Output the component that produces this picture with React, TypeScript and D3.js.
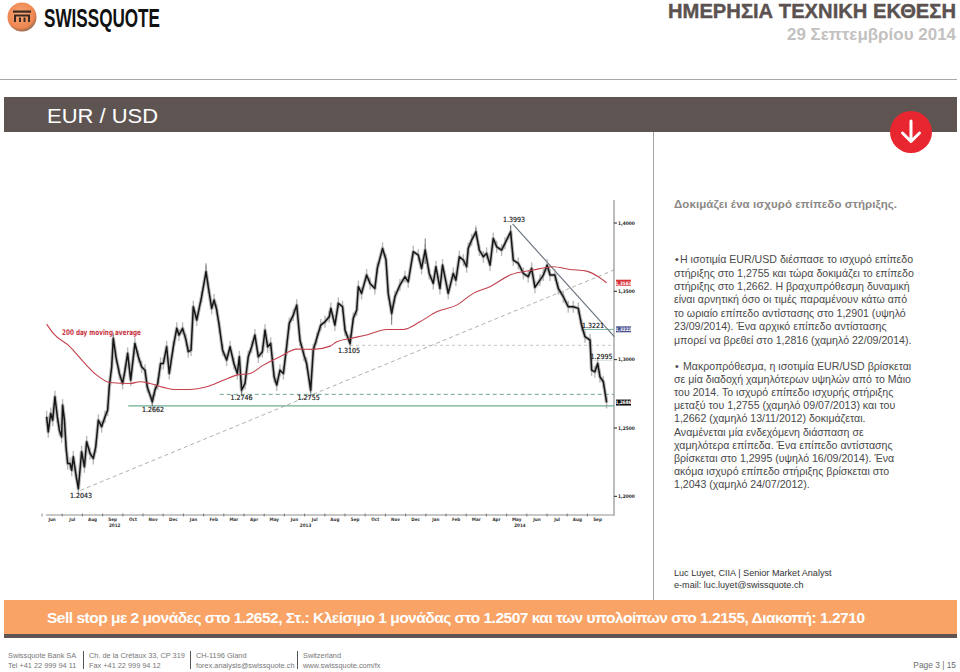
import React from "react";
import * as d3 from "d3";

// Time axis is expressed in months since 1 Jun 2012
const priceMonths = [0.23,0.31,0.43,0.53,0.64,0.76,0.86,0.97,1.02,1.11,1.19,1.27,1.39,1.47,1.55,1.67,1.8,1.96,2.1,2.21,2.38,2.54,2.66,2.79,2.95,3.12,3.25,3.33,3.45,3.53,3.66,3.83,3.99,4.11,4.24,4.39,4.6,4.77,4.93,5.1,5.21,5.46,5.59,5.73,5.87,6.01,6.17,6.3,6.5,6.67,6.78,6.96,7.13,7.24,7.38,7.49,7.66,7.9,8.12,8.23,8.4,8.52,8.65,8.78,8.94,9.14,9.31,9.5,9.67,9.77,9.88,10.05,10.21,10.38,10.54,10.71,10.91,11.04,11.17,11.32,11.49,11.62,11.78,11.95,12.11,12.24,12.44,12.61,12.77,12.97,13.1,13.3,13.43,13.6,13.8,14.01,14.22,14.3,14.5,14.67,14.88,15,15.25,15.41,15.58,15.66,15.82,16.07,16.24,16.48,16.6,16.86,17.03,17.14,17.31,17.47,17.72,17.97,18.13,18.38,18.63,18.79,18.97,19.17,19.37,19.5,19.7,19.83,20.11,20.36,20.49,20.66,20.86,21.02,21.1,21.27,21.48,21.65,21.85,22.01,22.18,22.34,22.51,22.75,22.92,23.2,23.33,23.58,23.83,24.07,24.24,24.4,24.65,24.82,25.01,25.15,25.39,25.56,25.81,26.05,26.3,26.55,26.71,26.88,27.13,27.21,27.37,27.51,27.62,27.79,27.95];
const closes = [1.2582,1.2472,1.2606,1.2557,1.2728,1.2582,1.2484,1.2435,1.2667,1.2557,1.2362,1.224,1.224,1.2191,1.2289,1.2167,1.2057,1.2326,1.2216,1.2399,1.2313,1.2277,1.2362,1.2557,1.2509,1.2582,1.2631,1.2801,1.2948,1.3155,1.3021,1.2899,1.2826,1.2923,1.3046,1.285,1.3119,1.3021,1.2948,1.2923,1.2801,1.2692,1.2777,1.2826,1.2972,1.2972,1.3094,1.2899,1.3094,1.3229,1.318,1.3229,1.3143,1.3058,1.307,1.3387,1.329,1.346,1.3643,1.3534,1.3375,1.3436,1.3363,1.3241,1.307,1.2997,1.3094,1.2972,1.2899,1.3021,1.2777,1.2826,1.3021,1.3094,1.318,1.3021,1.3058,1.3216,1.3094,1.3119,1.2875,1.2814,1.2923,1.2899,1.3094,1.3265,1.3326,1.3399,1.3143,1.3033,1.2972,1.2777,1.307,1.3155,1.3253,1.3277,1.3314,1.3375,1.3253,1.3412,1.3387,1.3216,1.3119,1.3302,1.3363,1.3534,1.3485,1.3619,1.3558,1.3521,1.3668,1.3814,1.3729,1.3485,1.3338,1.346,1.3546,1.3607,1.357,1.379,1.3765,1.3668,1.3802,1.3631,1.3558,1.368,1.3521,1.3692,1.3485,1.3631,1.3582,1.3753,1.3729,1.368,1.3814,1.3875,1.3936,1.3802,1.3753,1.3778,1.3692,1.3887,1.3826,1.3802,1.3851,1.3936,1.3729,1.3704,1.3631,1.3607,1.3668,1.3529,1.3582,1.3619,1.3692,1.3619,1.3619,1.3521,1.346,1.3387,1.3387,1.3375,1.3253,1.3168,1.3143,1.2923,1.2911,1.2972,1.2875,1.2838,1.2687];

const wickMonths = [1.8,3.53,5.46,8.12,9.88,13.3,15.25,17.31,18.97,21.48,23.2];
const wickLows = [1.2043,1.31,1.2662,1.36,1.2746,1.2755,1.3105,1.3255,1.37,1.39,1.39];
const wickHighs = [1.212,1.3185,1.274,1.3705,1.285,1.285,1.318,1.34,1.3887,1.3965,1.3985];

const maMonths = [0.23,0.56,1.39,2.05,2.71,3.37,4.36,4.85,5.35,6.01,6.5,7.33,8.15,8.98,9.64,10.3,10.96,11.78,12.61,13.43,14.26,14.59,15.25,16.07,17.06,17.89,18.71,19.54,20.53,21.35,22.18,23.17,24.32,25.31,26.14,26.96,27.54,27.95];
const maValues = [1.326,1.3192,1.3094,1.2984,1.2887,1.2833,1.2826,1.2838,1.2826,1.2797,1.2782,1.2782,1.2801,1.285,1.2887,1.2899,1.296,1.3021,1.3077,1.3075,1.3099,1.3131,1.3155,1.318,1.3221,1.3221,1.3277,1.3351,1.3399,1.3485,1.3534,1.3619,1.3656,1.368,1.366,1.3648,1.3607,1.3563];

const monthLabels = ["Jun","Jul","Aug","Sep","Oct","Nov","Dec","Jan","Feb","Mar","Apr","May","Jun","Jul","Aug","Sep","Oct","Nov","Dec","Jan","Feb","Mar","Apr","May","Jun","Jul","Aug","Sep"];
const yearLabels = [{ label: "2012", m: 3.6 }, { label: "2013", m: 13.05 }, { label: "2014", m: 23.66 }];
const yTicks = [1.4, 1.35, 1.3, 1.25, 1.2];

const levelLines = [
  { value: 1.2662, from: 4.27, color: "#6fae8f", width: 1.2, dash: "" },
  { value: 1.2746, from: 8.8, color: "#5f9a84", width: 0.9, dash: "4 3" },
  { value: 1.3105, from: 15.25, color: "#b8c4be", width: 0.9, dash: "3 3" },
  { value: 1.3221, from: 26.75, color: "#7fb8a0", width: 1, dash: "" },
  { value: 1.2995, from: 27.15, color: "#d5e0da", width: 1, dash: "" },
];
const priceNotes = [
  { text: "1.3993", m: 23.37, p: 1.4004 },
  { text: "1.3221", m: 27.28, p: 1.3231 },
  { text: "1.3105", m: 15.2, p: 1.3048 },
  { text: "1.2995", m: 27.7, p: 1.3008 },
  { text: "1.2746", m: 9.88, p: 1.2704 },
  { text: "1.2755", m: 13.2, p: 1.2704 },
  { text: "1.2662", m: 5.5, p: 1.2618 },
  { text: "1.2043", m: 1.93, p: 1.199 },
];
const flags = [
  { text: "1.3563", p: 1.3563, fill: "#d8313a" },
  { text: "1.3222", p: 1.3222, fill: "#4c5590" },
  { text: "1.2686", p: 1.2686, fill: "#111111" },
];

const headerTitle = "ΗΜΕΡΗΣΙΑ ΤΕΧΝΙΚΗ ΕΚΘΕΣΗ";
const headerDate = "29 Σεπτεμβρίου 2014";
const subHeading = "Δοκιμάζει ένα ισχυρό επίπεδο στήριξης.";
const bodyOne = [
  "στήριξης στο 1,2755 και τώρα δοκιμάζει το επίπεδο",
  "στήριξης στο 1,2662. Η βραχυπρόθεσμη δυναμική",
  "είναι αρνητική όσο οι τιμές παραμένουν κάτω από",
  "το ωριαίο επίπεδο αντίστασης στο 1,2901 (υψηλό",
  "23/09/2014). Ένα αρχικό επίπεδο αντίστασης",
  "μπορεί να βρεθεί στο 1,2816 (χαμηλό 22/09/2014).",
];
const bodyTwo = [
  "σε μία διαδοχή χαμηλότερων υψηλών από το Μάιο",
  "του 2014. Το ισχυρό επίπεδο ισχυρής στήριξης",
  "μεταξύ του 1,2755 (χαμηλό 09/07/2013) και του",
  "1,2662 (χαμηλό 13/11/2012) δοκιμάζεται.",
  "Αναμένεται μία ενδεχόμενη διάσπαση σε",
  "χαμηλότερα επίπεδα. Ένα επίπεδο αντίστασης",
  "βρίσκεται στο 1,2995 (υψηλό 16/09/2014). Ένα",
  "ακόμα ισχυρό επίπεδο στήριξης βρίσκεται στο",
  "1,2043 (χαμηλό 24/07/2012).",
];
const bandText = "Sell stop με 2 μονάδες στο 1.2652, Στ.: Κλείσιμο 1 μονάδας στο 1.2507 και των υπολοίπων στο 1.2155, Διακοπή: 1.2710";
const footerCols = [
  { x: 8, a: "Swissquote Bank SA", b: "Tel +41 22 999 94 11" },
  { x: 89, a: "Ch. de la Crétaux 33, CP 319", b: "Fax +41 22 999 94 12" },
  { x: 196, a: "CH-1196 Gland", b: "forex.analysis@swissquote.ch" },
  { x: 303, a: "Switzerland", b: "www.swissquote.com/fx" },
];

const SANS = "'Liberation Sans', Arial, sans-serif";
const COND = "'DejaVu Sans Condensed', 'DejaVu Sans', sans-serif";

export default function App() {
  const x = d3.scaleLinear().domain([0, 28]).range([42, 607.6]);
  const y = d3.scaleLinear().domain([1.4, 1.2]).range([223, 496.3]);
  const priceLine = d3.line<number>().x((_, i) => x(priceMonths[i])).y((d) => y(d));
  const maLine = d3.line<number>().x((_, i) => x(maMonths[i])).y((d) => y(d)).curve(d3.curveMonotoneX);
  const plotRight = 614;
  const plotLeft = 46;
  const axisY = 515;

  const support: [number, number][] = [[1.9, 1.2043], [28.33, 1.3657]];
  const resist: [number, number][] = [[23.3, 1.3993], [28.33, 1.3169]];
  const lineOf = (pts: [number, number][]) => d3.line<[number, number]>().x((d) => x(d[0])).y((d) => y(d[1]))(pts) as string;

  return (
    <svg width={960} height={672} style={{ position: "absolute", left: 0, top: 0, display: "block", background: "#fff" }} fontFamily={SANS}>
      <defs>
        <radialGradient id="logoGrad" cx="45%" cy="40%" r="60%">
          <stop offset="0%" stopColor="#f7a878" />
          <stop offset="80%" stopColor="#ee8650" />
          <stop offset="100%" stopColor="#9a6a50" />
        </radialGradient>
      </defs>
      <circle cx={22} cy={17} r={14.5} fill="url(#logoGrad)" />
      <rect x={13} y={10.5} width={18} height={2.2} fill="#3a2a22" />
      <path d="M15 22 V15.5 H29 V22 M20 22 V17.5 M24.5 22 V17.5" fill="none" stroke="#3a2a22" strokeWidth={2} />
      <text x={44} y={27} fontFamily="'Liberation Sans Narrow', 'Liberation Sans', sans-serif" fontWeight={700} fontSize={26} fill="#111" textLength={116} lengthAdjust="spacingAndGlyphs">SWISSQUOTE</text>
      <text x={956} y={17.5} textAnchor="end" fontWeight={700} fontSize={21} fill="#5b5250" stroke="#5b5250" strokeWidth={0.4} textLength={288} lengthAdjust="spacingAndGlyphs">{headerTitle}</text>
      <text x={956} y={40} textAnchor="end" fontWeight={700} fontSize={17} fill="#c3c1c0" textLength={169} lengthAdjust="spacingAndGlyphs">{headerDate}</text>
      <line x1={0} x2={957} y1={79.5} y2={79.5} stroke="#a9a6a5" strokeWidth={1} />
      <rect x={4} y={97} width={953} height={35} fill="#5e5553" />
      <text x={47} y={122.5} fontSize={21} fill="#fff" textLength={111} lengthAdjust="spacingAndGlyphs">EUR / USD</text>
      <line x1={653.5} x2={653.5} y1={132} y2={600} stroke="#a5a2a1" strokeWidth={1} />
      <circle cx={911} cy={132} r={21} fill="#e8262f" />
      <path d="M911 121 V141 M902.5 133 L911 141.5 L919.5 133" fill="none" stroke="#fff" strokeWidth={3} strokeLinecap="round" strokeLinejoin="round" />

      <text x={674} y={208} fontWeight={700} fontSize={11.5} fill="#8b8886" textLength={223}>{subHeading}</text>
      <g fontSize={10.6} fill="#4a4a4a">
        <text x={675} y={263}>•</text>
        <text x={680} y={263}>Η ισοτιμία EUR/USD διέσπασε το ισχυρό επίπεδο</text>
        {bodyOne.map((t, i) => <text key={t} x={674} y={276.5 + i * 13.45}>{t}</text>)}
        <text x={675} y={370}>•</text>
        <text x={683} y={370}>Μακροπρόθεσμα, η ισοτιμία EUR/USD βρίσκεται</text>
        {bodyTwo.map((t, i) => <text key={t} x={674} y={383.1 + i * 13.1}>{t}</text>)}
      </g>
      <g fontSize={9.1} fill="#333">
        <text x={674} y={575.5}>Luc Luyet, CIIA | Senior Market Analyst</text>
        <text x={674} y={587.5}>e-mail: luc.luyet@swissquote.ch</text>
      </g>

      <line x1={plotRight} x2={plotRight} y1={200} y2={axisY + 1} stroke="#bdbdbd" strokeWidth={2} />
      <line x1={plotLeft} x2={plotRight} y1={axisY} y2={axisY} stroke="#b5b5b5" strokeWidth={1.5} />
      {monthLabels.map((m, i) => (
        <g key={i}>
          <line x1={x(i)} x2={x(i)} y1={axisY - 1.5} y2={axisY + 1.5} stroke="#555" strokeWidth={0.7} />
          <text x={x(i + 0.5)} y={521} textAnchor="middle" fontFamily={COND} fontSize={4.6} fontWeight={700} fill="#333">{m}</text>
        </g>
      ))}
      {yearLabels.map((d) => (
        <text key={d.label} x={x(d.m)} y={526.5} textAnchor="middle" fontFamily={COND} fontSize={4.6} fontWeight={700} fill="#333">{d.label}</text>
      ))}
      {yTicks.map((t) => (
        <g key={t}>
          <line x1={plotRight} x2={plotRight + 3} y1={y(t)} y2={y(t)} stroke="#222" strokeWidth={1} />
          <text x={plotRight + 4} y={y(t) + 1.8} fontFamily={COND} fontSize={4.8} fontWeight={700} fill="#222">{t.toFixed(4).replace(".", ",")}</text>
        </g>
      ))}

      {levelLines.map((l) => (
        <line key={l.value} x1={x(l.from)} x2={plotRight} y1={y(l.value)} y2={y(l.value)} stroke={l.color} strokeWidth={l.width} strokeDasharray={l.dash || undefined} />
      ))}
      <path d={lineOf(support)} fill="none" stroke="#9a9a9a" strokeWidth={0.8} strokeDasharray="4 3" />
      <path d={lineOf(resist)} fill="none" stroke="#6c7682" strokeWidth={1.2} />

      {priceMonths.map((m, i) => (
        <line key={m} x1={x(m)} x2={x(m)} y1={y(closes[i]) - 6} y2={y(closes[i]) + 6} stroke="#9c9c9c" strokeOpacity={0.7} strokeWidth={1.4} />
      ))}
      <path d={priceLine(closes) as string} fill="none" stroke="#9a9a9a" strokeOpacity={0.65} strokeWidth={3.6} strokeLinejoin="round" />
      {wickMonths.map((m, i) => (
        <line key={m} x1={x(m)} x2={x(m)} y1={y(wickHighs[i])} y2={y(wickLows[i])} stroke="#777" strokeWidth={1} />
      ))}
      <path d={priceLine(closes) as string} fill="none" stroke="#161616" strokeWidth={1.5} strokeLinejoin="round" />
      <path d={maLine(maValues) as string} fill="none" stroke="#c4404e" strokeWidth={1.1} />
      <text x={62} y={334.5} fontFamily={COND} fontWeight={700} fontSize={7.6} fill="#c8323f" textLength={79} lengthAdjust="spacingAndGlyphs">200 day moving average</text>

      {priceNotes.map((n) => (
        <text key={n.text} x={x(n.m)} y={y(n.p)} textAnchor="middle" fontFamily={COND} fontSize={7} fill="#111" stroke="#111" strokeWidth={0.15}>{n.text}</text>
      ))}
      {flags.map((f) => (
        <g key={f.text}>
          <rect x={616} y={y(f.p) - 3} width={15} height={6} fill={f.fill} />
          <text x={623.5} y={y(f.p) + 1.8} textAnchor="middle" fontFamily={COND} fontSize={4.6} fontWeight={700} fill="#fff">{f.text.replace(".", ",")}</text>
        </g>
      ))}

      <rect x={4} y={600} width={953} height={34.5} fill="#f9a366" />
      <rect x={4} y={634} width={953} height={4} fill="#5e5553" />
      <text x={47} y={623} fontWeight={700} fontSize={15.5} fill="#fff" textLength={818} lengthAdjust="spacing">{bandText}</text>
      {footerCols.map((c, i) => (
        <g key={c.x} fontSize={7.35} fill="#777">
          <text x={c.x} y={658}>{c.a}</text>
          <text x={c.x} y={668}>{c.b}</text>
          {i > 0 && <line x1={c.x - 5.5} x2={c.x - 5.5} y1={651} y2={669} stroke="#555" strokeWidth={1} />}
        </g>
      ))}
      <text x={956} y={668} textAnchor="end" fontSize={8.4} fill="#6c6c6c">Page 3 | 15</text>
    </svg>
  );
}
